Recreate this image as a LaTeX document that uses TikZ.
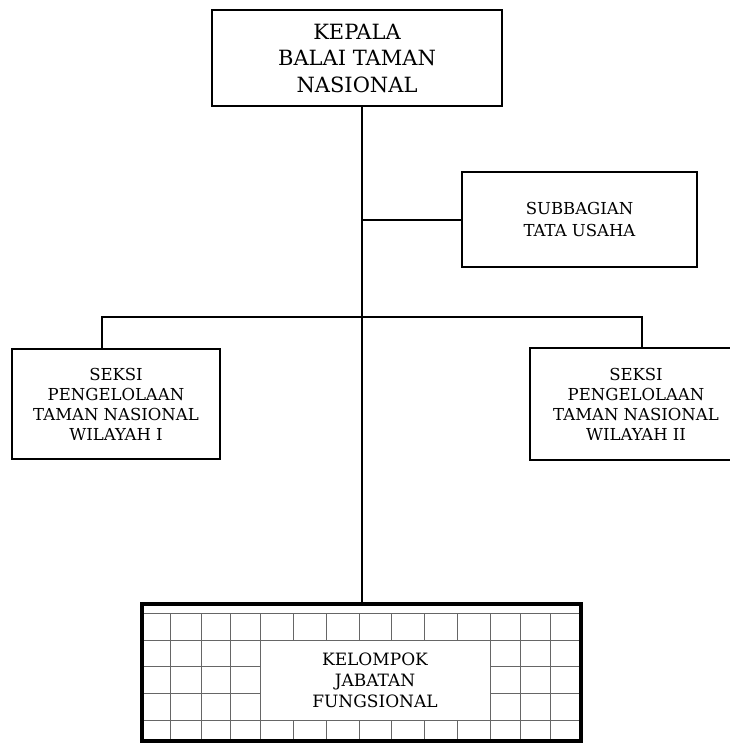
\documentclass[tikz,border=0pt]{standalone}
\usepackage{fontspec}
\setmainfont{DejaVu Serif}

\tikzset{
  kotak/.style={draw, line width=2pt, align=center, inner sep=0pt,
    font=\fontsize{16.5}{20}\selectfont},
  garis/.style={line width=2pt},
  kisi/.style={black!60, line width=0.8pt}
}

\begin{document}
\begin{tikzpicture}[x=1pt,y=-1pt]
\useasboundingbox (0,0) rectangle (730,745);
\node[kotak, minimum width=290pt, minimum height=96pt,
  font=\fontsize{21}{26.5}\selectfont] (kepala) at (357,58)
  {KEPALA\\BALAI TAMAN\\NASIONAL};
\node[kotak, minimum width=235pt, minimum height=95pt,
  font=\fontsize{16.5}{21.5}\selectfont] (subbagian) at (579.5,219.5)
  {SUBBAGIAN\\TATA USAHA};
\node[kotak, minimum width=208pt, minimum height=110pt] (wilsatu) at (116,404)
  {SEKSI\\PENGELOLAAN\\TAMAN NASIONAL\\WILAYAH I};
\node[kotak, minimum width=212pt, minimum height=112pt] (wildua) at (636,404)
  {SEKSI\\PENGELOLAAN\\TAMAN NASIONAL\\WILAYAH II};
\node[draw, line width=4pt, minimum width=439pt, minimum height=137pt,
  inner sep=0pt] (bingkai) at (361.5,672.5) {};
% kisi di dalam bingkai
\draw[kisi] (144,613.3)--(579,613.3) (144,640)--(579,640) (144,720)--(579,720);
\draw[kisi] (144,666.7)--(260.7,666.7) (490,666.7)--(579,666.7);
\draw[kisi] (144,693.3)--(260.7,693.3) (490,693.3)--(579,693.3);
\draw[kisi] (170.7,613.3)--(170.7,739) (201.7,613.3)--(201.7,739)
  (230.7,613.3)--(230.7,739) (260.7,613.3)--(260.7,739);
\draw[kisi] (490,613.3)--(490,739) (520.7,613.3)--(520.7,739)
  (550.7,613.3)--(550.7,739);
\draw[kisi] (293.3,613.3)--(293.3,640) (326,613.3)--(326,640)
  (359,613.3)--(359,640) (391.7,613.3)--(391.7,640)
  (424.3,613.3)--(424.3,640) (457.3,613.3)--(457.3,640);
\draw[kisi] (293.3,720)--(293.3,739) (326,720)--(326,739)
  (359,720)--(359,739) (391.7,720)--(391.7,739)
  (424.3,720)--(424.3,739) (457.3,720)--(457.3,739);
\node[align=center, inner sep=0pt, font=\fontsize{17}{21}\selectfont]
  (fungsional) at (375,680) {KELOMPOK\\JABATAN\\FUNGSIONAL};
% garis penghubung
\coordinate (kiri) at (102,317);
\coordinate (kanan) at (642,317);
\draw[garis] (kepala.south -| bingkai.north) -- (bingkai.north);
\draw[garis] (subbagian.west) -- (subbagian.west -| bingkai.north);
\draw[garis] (wilsatu.north -| kiri) -- (kiri) -- (kanan) -- (wildua.north -| kanan);
\end{tikzpicture}
\end{document}
